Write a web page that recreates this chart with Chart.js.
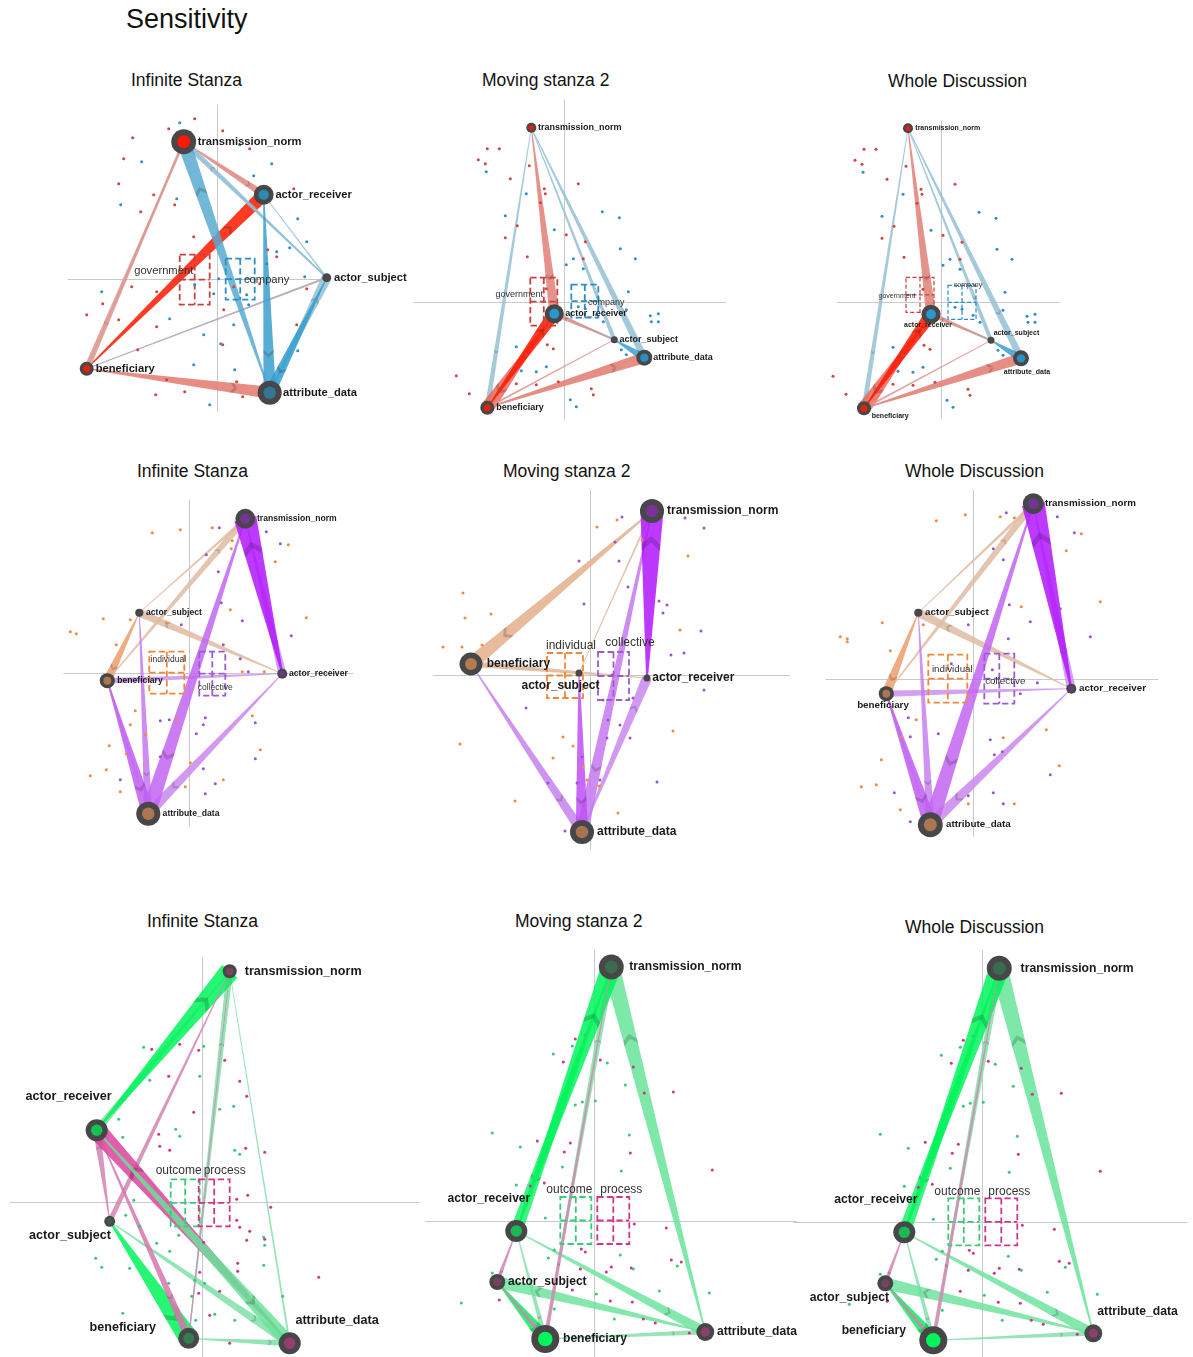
<!DOCTYPE html>
<html lang="en">
<head>
<meta charset="UTF-8">
<title>Sensitivity</title>
<script src="https://cdn.jsdelivr.net/npm/chart.js@4.4.1/dist/chart.umd.min.js"></script>
<style>
  body { margin: 0; background: #fff; width: 1193px; height: 1357px; position: relative; overflow: hidden;
         font-family: "Liberation Sans", Arial, sans-serif; }
  .t { position: absolute; white-space: nowrap; color: #111; line-height: 1; }
  canvas { position: absolute; }
</style>
</head>
<body>
<div class="t" style="left:126px;top:6px;font-size:27px">Sensitivity</div>
<div class="t" style="left:131px;top:72px;font-size:17.5px">Infinite Stanza</div>
<div class="t" style="left:482px;top:72px;font-size:17.5px">Moving stanza 2</div>
<div class="t" style="left:888px;top:73px;font-size:17.5px">Whole Discussion</div>
<div class="t" style="left:137px;top:463px;font-size:17.5px">Infinite Stanza</div>
<div class="t" style="left:503px;top:463px;font-size:17.5px">Moving stanza 2</div>
<div class="t" style="left:905px;top:463px;font-size:17.5px">Whole Discussion</div>
<div class="t" style="left:147px;top:913px;font-size:17.5px">Infinite Stanza</div>
<div class="t" style="left:515px;top:913px;font-size:17.5px">Moving stanza 2</div>
<div class="t" style="left:905px;top:919px;font-size:17.5px">Whole Discussion</div>
<script>
// codes (nodes), same order in every panel
const nodeNames = ['transmission_norm', 'actor_receiver', 'actor_subject', 'beneficiary', 'attribute_data'];
const row1Groups = ['government', 'company'];
const row2Groups = ['individual', 'collective'];
const row3Groups = ['outcome', 'process'];

// ---- row 1 : government / company ----
const p1Nodes = [[-0.33,1.37],[0.47,0.84],[1.10,0.01],[-1.30,-0.90],[0.53,-1.14]];
const p1Sizes = [0.89,0.71,0.32,0.50,0.86];
const p1Tint = [[0,1.0],[1,0.8],[0,0],[0,0.85],[1,0.55]];
// [from, to, group, weight, saturation] - drawn in list order
const p1Edges = [
  [3,1,0,0.52,1.0],[3,4,0,0.48,0.5],[0,1,0,0.28,0.4],[0,3,0,0.24,0.25],[3,0,0,0.12,0.25],[3,2,0,0.08,0.35],
  [4,2,1,0.40,0.35],[2,0,1,0.24,0.35],[0,2,1,0.08,0.4],[1,2,1,0.06,0.4],[3,2,1,0.05,0.3],
  [4,0,1,0.55,0.75],[1,4,1,0.50,0.9],[2,4,1,0.44,0.95]
];
const p1Means = [[-0.37,-0.07,-0.26,0.24],[0.09,0.38,-0.21,0.20]];
const p1Dots0 = [[-0.22,1.60],[-0.48,1.50],[0.06,1.48],[-0.84,1.41],[0.33,1.30],[-0.93,1.20],[-0.98,0.95],[-0.63,0.84],
  [-0.42,0.74],[-0.76,0.67],[0.77,0.90],[-0.23,0.42],[0.51,0.29],[0.60,0.22],[-0.85,-0.08],[-0.60,-0.13],[-1.14,-0.25],
  [-1.30,-0.36],[-0.98,-0.41],[-0.60,-0.48],[-0.79,-0.71],[-0.50,-1.01],[-0.32,-1.13],[-0.61,-1.16],[0.06,-0.66],
  [0.20,-1.03],[0.26,-1.18],[0.07,-0.31],[0.90,-0.10],[0.17,-0.08],[0.80,-0.46],[0.43,-0.05]];
const p1Dots1 = [[-0.37,1.56],[0.23,1.34],[-0.75,1.17],[0.55,1.15],[0.37,1.03],[-0.96,0.74],[-0.40,0.80],[0.81,0.60],
  [0.90,0.37],[0.73,0.31],[0.60,0.27],[0.50,0.15],[0.02,0.00],[-0.22,-0.06],[-0.03,-0.15],[-1.15,-0.13],[-0.47,-0.40],
  [-0.13,-0.56],[0.04,-0.65],[0.17,-0.46],[0.18,-0.91],[-0.23,-0.86],[-0.07,-1.26],[0.81,-0.72],[0.32,-0.26],
  [0.88,0.02],[0.30,-0.16]];

const p2Nodes = [[-0.33,1.74],[-0.10,-0.12],[0.50,-0.38],[-0.77,-1.06],[0.80,-0.56]];
const p2Sizes = [0.36,0.68,0.25,0.50,0.57];
const p2Tint = [[0,0.8],[1,1.0],[0,0],[0,0.8],[1,0.9]];
const p2Edges = [
  [0,4,1,0.28,0.35],[0,2,1,0.16,0.35],[0,3,1,0.20,0.3],[1,2,1,0.10,0.5],
  [0,1,0,0.40,0.45],[1,3,0,0.55,0.6],[3,1,0,0.50,1.0],[3,4,0,0.44,0.5],[2,1,0,0.20,0.3],[2,3,0,0.08,0.3],[4,3,0,0.06,0.3],
  [2,4,1,0.32,0.9]
];
const p2Means = [[-0.34,-0.07,-0.24,0.24],[0.07,0.34,-0.16,0.17]];
const p3Means = [[-0.35,-0.07,-0.10,0.25],[0.07,0.35,-0.17,0.17]];
const p2Dots0 = [[-0.77,1.53],[-0.65,1.53],[-0.86,1.42],[-0.79,1.38],[-0.35,1.36],[-0.54,1.23],[0.14,1.18],[-0.20,1.13],
  [-0.19,1.08],[-0.24,0.99],[-0.47,0.76],[-0.59,0.64],[-0.37,0.45],[0.02,0.67],[0.21,0.60],[0.19,0.43],[-0.18,0.13],
  [-0.17,-0.43],[-0.11,-0.47],[-0.38,-0.53],[-1.08,-0.74],[-0.95,-0.92],[-0.48,-0.82],[-0.28,-0.83],[-0.06,-0.80],
  [0.27,-0.87],[0.29,-0.93]];
const p2Dots1 = [[-0.78,1.30],[-0.38,1.08],[-0.59,0.86],[-0.10,0.72],[0.38,0.90],[0.55,0.84],[0.56,0.53],[0.71,0.43],
  [0.09,0.43],[0.02,0.37],[0.19,0.33],[0.64,0.10],[0.14,-0.05],[0.21,-0.07],[0.32,-0.13],[0.39,-0.20],[0.86,-0.14],
  [0.94,-0.12],[0.87,-0.20],[0.94,-0.20],[0.62,-0.08],[0.57,-0.48],[0.62,-0.53],[-0.48,-0.45],[-0.43,-0.69],
  [-0.28,-0.70],[0.06,-0.98],[0.12,-1.05],[-0.18,-0.65]];

// ---- row 2 : individual / collective ----
const p4Nodes = [[0.56,1.54],[0.93,-0.01],[-0.50,0.60],[-0.82,-0.08],[-0.41,-1.41]];
const p4Sizes = [0.71,0.36,0.29,0.54,0.86];
const p4Tint = [[1,0.4],[1,0.3],[0,0],[0,0.6],[0,0.6]];
const p4Edges = [
  [2,3,0,0.36,0.85],[1,2,0,0.32,0.35],[3,0,0,0.28,0.35],[2,0,0,0.12,0.35],[4,3,0,0.10,0.3],
  [1,3,1,0.22,0.4],[0,1,1,0.32,0.4],[1,4,1,0.40,0.45],[2,4,1,0.32,0.55],[3,4,1,0.52,0.7],[0,4,1,0.60,0.65],[1,0,1,0.90,1.0]
];
const p4Means = [[-0.40,-0.05,-0.21,0.21],[0.10,0.36,-0.23,0.21]];
const p4Dots0 = [[-0.37,1.40],[-0.09,1.43],[0.23,1.45],[0.43,1.32],[0.42,1.24],[0.99,1.28],[0.86,1.11],[1.17,0.55],
  [0.41,0.63],[-0.59,0.53],[-0.86,0.54],[-1.19,0.41],[-1.13,0.39],[-0.73,0.28],[-0.23,0.50],[0.75,0.01],[0.53,0.01],
  [-0.54,-0.38],[-0.59,-0.52],[-0.13,-0.47],[-0.44,-0.62],[-0.80,-0.73],[-0.63,-0.81],[0.71,-0.77],[0.63,-0.43],
  [-0.83,-0.97],[-0.99,-1.03],[-0.69,-1.19],[0.01,-0.90],[-0.04,-1.14],[0.34,-1.07]];
const p4Dots1 = [[0.30,1.45],[0.77,1.41],[0.91,1.29],[0.17,1.18],[0.29,1.01],[0.32,0.70],[0.53,0.52],[1.02,0.37],
  [0.34,0.28],[0.51,0.14],[-0.08,0.48],[0.59,0.01],[-0.29,-0.48],[-0.20,-0.47],[0.07,-0.61],[0.16,-0.45],[0.14,-0.52],
  [0.66,-0.50],[0.66,-0.86],[0.14,-0.96],[0.26,-1.11],[0.16,-1.21],[-0.69,-1.07],[-0.29,-0.84]];

const p5Nodes = [[0.62,1.64],[0.57,-0.03],[-0.11,0.02],[-1.19,0.11],[-0.08,-1.57]];
const p5Sizes = [0.86,0.25,0.25,0.82,0.86];
const p5Tint = [[1,0.45],[0,0],[0,0],[0,0.65],[0,0.55]];
const p5Edges = [
  [0,3,0,0.56,0.6],[1,3,0,0.24,0.35],[2,0,0,0.08,0.35],[2,3,0,0.12,0.35],
  [3,4,1,0.40,0.5],[4,1,1,0.40,0.45],[0,4,1,0.50,0.55],[2,4,1,0.50,0.75],[1,0,1,0.92,1.0]
];
const p5Means = [[-0.43,-0.07,-0.23,0.22],[0.08,0.39,-0.25,0.23]];
const p5Dots0 = [[0.27,1.55],[0.07,1.48],[-1.27,0.82],[-1.25,0.57],[-0.99,0.61],[-1.47,0.28],[-1.28,0.28],[-1.08,0.30],
  [0.90,0.45],[0.98,1.19],[0.52,1.35],[-0.75,-1.26],[-1.30,-0.69],[-0.37,-0.83],[-0.27,-0.62],[-0.17,-0.71],
  [-0.07,-0.92],[-0.03,-1.05],[0.83,-0.56],[0.28,-1.38],[0.09,-1.11]];
const p5Dots1 = [[0.32,1.58],[0.25,1.33],[0.29,1.14],[-0.11,1.14],[0.38,0.88],[-0.06,0.71],[0.69,0.74],[0.77,0.70],
  [0.73,0.62],[1.11,0.44],[0.94,0.22],[0.81,0.20],[1.14,-0.15],[0.95,1.57],[1.14,1.47],[0.22,0.00],[0.13,-0.25],
  [0.43,-0.23],[-0.64,-0.33],[0.18,-0.45],[0.30,-0.50],[0.40,-0.63],[0.17,-0.63],[-0.08,-0.82],[0.10,-1.05],
  [0.67,-1.07],[-0.42,-1.08],[-0.13,-1.08],[-0.25,-1.56]];

const p6Nodes = [[0.60,1.75],[0.98,-0.10],[-0.55,0.66],[-0.87,-0.15],[-0.43,-1.46]];
const p6Sizes = [0.75,0.36,0.29,0.54,0.89];
const p6Tint = [[1,0.4],[1,0.3],[0,0],[0,0.6],[0,0.6]];
const p6Edges = [
  [2,3,0,0.40,0.85],[1,2,0,0.36,0.35],[3,0,0,0.30,0.35],[2,0,0,0.14,0.35],[4,3,0,0.10,0.3],
  [1,3,1,0.26,0.4],[0,1,1,0.36,0.4],[1,4,1,0.45,0.45],[2,4,1,0.34,0.5],[3,4,1,0.55,0.7],[0,4,1,0.62,0.65],[1,0,1,0.92,1.0]
];
const p6Means = [[-0.45,-0.06,-0.24,0.24],[0.11,0.41,-0.25,0.25]];
const p6Dots0 = [[-0.37,1.58],[-0.08,1.64],[0.27,1.62],[0.41,1.61],[0.93,1.28],[1.08,1.45],[1.27,0.77],[0.48,0.72],
  [-0.91,0.56],[-0.50,0.54],[-1.33,0.42],[-1.26,0.40],[-1.26,0.37],[-0.83,0.28],[-0.57,-0.41],[-0.72,-0.58],
  [0.73,-0.51],[0.86,-0.87],[0.30,-0.59],[-0.92,-0.81],[-1.12,-1.08],[-0.97,-1.06],[-0.73,-1.31],[-0.05,-1.25],[0.41,-1.25]];
const p6Dots1 = [[0.33,1.66],[0.84,1.62],[1.01,1.46],[0.20,1.30],[0.30,1.19],[-0.05,0.54],[0.36,0.74],[0.57,0.57],
  [0.87,0.70],[1.17,0.42],[0.35,0.40],[-0.22,0.15],[0.19,0.09],[0.64,-0.04],[0.47,-0.15],[-0.65,-0.39],[-0.35,-0.55],
  [-0.63,-0.58],[0.17,-0.61],[0.29,-0.73],[0.21,-0.76],[0.77,-0.96],[-0.79,-1.14],[0.20,-1.14],[0.30,-1.25],
  [-0.05,-1.17],[-0.63,-1.43]];

// ---- row 3 : outcome / process ----
const p7Nodes = [[0.28,2.31],[-1.05,0.72],[-0.92,-0.19],[-0.13,-1.36],[0.88,-1.41]];
const p7Sizes = [0.50,0.79,0.39,0.75,0.79];
const p7Tint = [[1,0.35],[0,0.7],[0,0.1],[0,0.3],[1,0.5]];
const p7Edges = [
  [0,4,0,0.08,0.35],[3,0,0,0.25,0.4],[3,4,0,0.25,0.4],[0,1,0,0.30,0.45],[2,4,0,0.36,0.4],[1,0,0,0.80,1.0],
  [2,3,0,0.80,1.0],
  [0,3,1,0.06,0.4],[0,2,1,0.20,0.45],[2,1,1,0.30,0.45],[1,3,1,0.30,0.55],[4,1,1,0.75,0.9],
  [1,4,0,0.55,0.55]
];
const p7Means = [[-0.31,-0.02,-0.24,0.23],[-0.03,0.28,-0.24,0.23]];
const p7Dots0 = [[-0.58,1.55],[0.02,1.56],[-0.02,1.26],[-0.52,1.22],[0.32,0.96],[0.18,0.93],[-0.26,0.73],[-0.22,0.66],
  [-0.83,0.83],[-0.79,0.65],[0.33,0.52],[0.38,0.48],[-0.68,0.02],[-0.76,-0.13],[-0.62,-0.24],[-0.23,-0.33],
  [-0.45,-0.41],[-0.32,-0.49],[-1.06,-0.56],[-1.00,-0.65],[-0.72,-0.66],[-0.33,-0.81],[-0.10,-0.94],[-0.07,-0.78],
  [0.03,-0.81],[0.33,-1.18],[0.13,-1.12],[0.62,-0.35],[0.63,-0.43],[0.62,-0.63],[0.81,-0.94],[-0.79,-1.11],[-0.06,-1.18]];
const p7Dots1 = [[-0.50,1.53],[-0.22,1.58],[-0.03,1.52],[0.23,1.42],[0.38,1.21],[0.45,1.06],[-0.33,1.26],[-0.08,0.90],
  [-0.43,0.68],[-0.32,0.52],[-0.42,0.56],[0.44,0.54],[0.63,0.50],[0.35,0.03],[0.46,0.07],[0.69,-0.05],[0.48,-0.29],
  [0.35,-0.18],[0.38,-0.25],[0.45,-0.38],[0.63,-0.37],[0.02,-0.40],[0.36,-0.61],[0.36,-0.69],[-0.02,-0.70],
  [0.18,-0.89],[-0.03,-0.91],[0.08,-1.13],[0.28,-1.41],[1.17,-0.75]];

const p8Nodes = [[0.17,2.54],[-0.78,-0.10],[-0.97,-0.61],[-0.49,-1.18],[1.11,-1.11]];
const p8Sizes = [0.89,0.79,0.57,1.00,0.64];
const p8Tint = [[0,0.2],[0,0.65],[1,0.3],[0,1.0],[1,0.45]];
const p8Edges = [
  [1,3,0,0.20,0.35],[3,4,0,0.20,0.35],[3,0,0,0.28,0.4],[1,4,0,0.40,0.5],[4,2,0,0.48,0.5],[4,0,0,0.68,0.55],
  [0,1,0,0.50,0.9],[1,0,0,0.80,1.0],[2,3,0,0.55,1.0],
  [0,3,1,0.16,0.4],[1,2,1,0.16,0.45],[2,3,1,0.20,0.45]
];
const p8Means = [[-0.34,-0.03,-0.23,0.24],[0.03,0.35,-0.23,0.24]];
const p8Dots0 = [[-0.09,1.86],[-0.22,1.75],[-0.41,1.67],[0.13,1.58],[0.31,1.36],[-0.12,1.19],[-0.19,1.16],[0.01,1.20],
  [-1.02,0.88],[-0.74,0.74],[0.35,0.86],[-0.32,0.54],[0.27,0.50],[-0.78,0.36],[-0.49,0.03],[-0.40,-0.29],
  [-0.46,-0.37],[0.26,-0.34],[0.39,-0.48],[0.83,-0.45],[0.02,-0.73],[-0.40,-0.88],[0.20,-0.98],[-1.02,-0.52],
  [-1.33,-0.82],[1.15,-0.72],[0.65,-0.70]];
const p8Dots1 = [[-0.19,1.82],[-0.31,1.59],[0.06,1.61],[0.39,1.54],[0.50,1.28],[0.79,1.29],[-0.57,0.80],[-0.24,0.78],
  [-0.30,0.69],[0.36,0.68],[1.18,0.51],[-0.50,0.38],[-0.64,0.35],[0.40,-0.03],[0.72,-0.07],[-0.13,-0.28],
  [-0.09,-0.31],[0.17,-0.46],[0.37,-0.47],[0.12,-0.51],[0.77,-0.39],[0.87,-0.41],[-0.14,-0.48],[-0.22,-0.69],
  [0.16,-0.80],[0.38,-0.81],[0.49,-0.98],[0.61,-1.02],[0.95,-1.12],[-0.95,-0.79]];

// colour ramps per row: [pale, vivid] for each group
const palettes = [
  [[[214,168,163],[255,25,0]], [[172,200,214],[38,152,206]]],
  [[[219,196,178],[238,148,86]], [[210,180,230],[178,22,255]]],
  [[[165,218,190],[0,245,90]], [[208,162,188],[222,48,150]]]
];
const dotColors = [['#d0453f','#2e8ec4'], ['#f08a3a','#9a52d2'], ['#3cc47a','#cf338a']];
const boxColors = [['#c8423d','#2e8ec4'], ['#f0883a','#9c5ccc'], ['#3dc97a','#d0348c']];
const groupNames = [row1Groups, row2Groups, row3Groups];
const GRAY = [74,74,74];
const EDGE_MAX = 25, NODE_MAX = 14;

// layout: canvas rect, origin pixel, axis-line extents, label placement
const panels = [
  {row:0, rect:[60,95,360,330], origin:[216.7,278.7], axes:[-1.49,1.12,-1.33,1.74], font:11.2, gfont:11.2,
   nodes:p1Nodes, sizes:p1Sizes, tint:p1Tint, edges:p1Edges, means:p1Means, dots:[p1Dots0,p1Dots1],
   glabels:[[-0.53,0.08],[0.50,-0.01]],
   labels:[[14,0,'left'],[11.7,0,'left'],[7.3,0,'left'],[9,0,'left'],[13.3,0,'left']]},
  {row:0, rect:[410,95,330,330], origin:[564.3,301.7], axes:[-1.51,1.62,-1.18,2.02], font:9, gfont:9,
   nodes:p2Nodes, sizes:p2Sizes, tint:p2Tint, edges:p2Edges, means:p2Means, dots:[p2Dots0,p2Dots1],
   glabels:[[-0.45,0.07],[0.42,-0.01]],
   labels:[[6.7,0,'left'],[11,0,'left'],[5.3,0,'left'],[9,0,'left'],[9,0,'left']]},
  {row:0, rect:[820,95,260,330], origin:[941,302.3], axes:[-1.04,1.19,-1.16,1.82], font:7, gfont:7,
   nodes:p2Nodes, sizes:p2Sizes, tint:p2Tint, edges:p2Edges, means:p3Means, dots:[p2Dots0,p2Dots1],
   glabels:[[-0.44,0.06],[0.27,0.17]],
   labels:[[7.3,0,'left'],[-3,10.7,'center'],[2.7,-7,'left'],[7.7,8,'left'],[6,14,'center']]},
  {row:1, rect:[55,490,320,345], origin:[189.3,672.7], axes:[-1.26,1.64,-1.54,1.73], font:8.6, gfont:8.5,
   nodes:p4Nodes, sizes:p4Sizes, tint:p4Tint, edges:p4Edges, means:p4Means, dots:[p4Dots0,p4Dots1],
   glabels:[[-0.21,0.13],[0.26,-0.15]],
   labels:[[11.7,0,'left'],[6.7,0,'left'],[6.7,0,'left'],[10,0,'left'],[14.3,0,'left']]},
  {row:1, rect:[430,488,370,365], origin:[590,675], axes:[-1.57,2.0,-1.75,1.85], font:12, gfont:12,
   nodes:p5Nodes, sizes:p5Sizes, tint:p5Tint, edges:p5Edges, means:p5Means, dots:[p5Dots0,p5Dots1],
   glabels:[[-0.19,0.29],[0.40,0.32]],
   labels:[[15,0,'left'],[5.3,0,'left'],[-18.5,12.3,'center'],[15.7,0,'left'],[15,0,'left']]},
  {row:1, rect:[820,488,350,355], origin:[973.3,678.7], axes:[-1.48,1.85,-1.58,1.89], font:9.8, gfont:9.8,
   nodes:p6Nodes, sizes:p6Sizes, tint:p6Tint, edges:p6Edges, means:p6Means, dots:[p6Dots0,p6Dots1],
   glabels:[[-0.21,0.09],[0.32,-0.03]],
   labels:[[11.7,0,'left'],[7.7,0,'left'],[6.7,0,'left'],[-3.3,12,'center'],[15.7,0,'left']]},
  {row:2, rect:[0,950,425,407], origin:[201.7,1202.3], axes:[-1.92,2.18,-1.55,2.45], font:12.6, gfont:12,
   nodes:p7Nodes, sizes:p7Sizes, tint:p7Tint, edges:p7Edges, means:p7Means, dots:[p7Dots0,p7Dots1],
   glabels:[[-0.23,0.32],[0.23,0.32]],
   labels:[[15,0,'left'],[15,-34,'right'],[1.3,14.3,'right'],[-32.7,-10.7,'right'],[5.7,-22.7,'left']]},
  {row:2, rect:[420,950,377,407], origin:[594.3,1221], axes:[-1.69,2.03,-1.36,2.71], font:12.1, gfont:12,
   nodes:p8Nodes, sizes:p8Sizes, tint:p8Tint, edges:p8Edges, means:p8Means, dots:[p8Dots0,p8Dots1],
   glabels:[[-0.25,0.31],[0.27,0.31]],
   labels:[[18,0,'left'],[14,-32.7,'right'],[10.7,0,'left'],[17.7,0,'left'],[11.7,0,'left']]},
  {row:2, rect:[790,950,400,407], origin:[982.3,1222.3], axes:[-1.89,2.05,-1.35,2.72], font:12.2, gfont:12,
   nodes:p8Nodes, sizes:p8Sizes, tint:p8Tint, edges:p8Edges, means:p8Means, dots:[p8Dots0,p8Dots1],
   glabels:[[-0.25,0.31],[0.27,0.31]],
   labels:[[21.3,0,'left'],[13.3,-32.3,'right'],[3.7,14,'right'],[-27.3,-10,'right'],[4,-21.7,'left']]}
];

const mix = (a, b, t) => a.map((v, i) => Math.round(v + (b[i] - v) * t));
const rgba = (c, a) => `rgba(${c[0]},${c[1]},${c[2]},${a})`;
const pts = arr => arr.map(p => ({x: p[0], y: p[1]}));

function wedge(ctx, ax, ay, bx, by, w, col) {
  const dx = bx - ax, dy = by - ay, L = Math.hypot(dx, dy);
  const ux = dx / L, uy = dy / L, px = -uy, py = ux;
  const n = Math.max(0.4, w * 0.04), h = w / 2;
  ctx.fillStyle = rgba(col, 0.85);
  ctx.beginPath();
  ctx.moveTo(ax + px * n, ay + py * n);
  ctx.lineTo(bx + px * h, by + py * h);
  ctx.lineTo(bx - px * h, by - py * h);
  ctx.lineTo(ax - px * n, ay - py * n);
  ctx.closePath();
  ctx.fill();
  if (w < 4) return;
  // chevron pointing to the wide end
  const t = 0.8, cx = ax + dx * t, cy = ay + dy * t;
  const hw = n + (h - n) * t, tip = hw * 0.9, th = Math.max(2, hw * 0.7);
  ctx.fillStyle = 'rgba(0,0,0,0.17)';
  ctx.beginPath();
  ctx.moveTo(cx + px * hw, cy + py * hw);
  ctx.lineTo(cx + ux * tip, cy + uy * tip);
  ctx.lineTo(cx - px * hw, cy - py * hw);
  ctx.lineTo(cx - px * hw - ux * th, cy - py * hw - uy * th);
  ctx.lineTo(cx + ux * (tip - th), cy + uy * (tip - th));
  ctx.lineTo(cx + px * hw - ux * th, cy + py * hw - uy * th);
  ctx.closePath();
  ctx.fill();
}

function panelPlugin(p, idx) {
  return {
    id: 'ena' + idx,
    beforeDatasetsDraw(chart) {
      const ctx = chart.ctx, sx = chart.scales.x, sy = chart.scales.y;
      const X = v => sx.getPixelForValue(v), Y = v => sy.getPixelForValue(v);
      ctx.save();
      ctx.strokeStyle = '#c9c9c9';
      ctx.lineWidth = 1;
      ctx.beginPath();
      const y0 = Math.round(Y(0)) + 0.5, x0 = Math.round(X(0)) + 0.5;
      ctx.moveTo(X(p.axes[0]), y0); ctx.lineTo(X(p.axes[1]), y0);
      ctx.moveTo(x0, Y(p.axes[2])); ctx.lineTo(x0, Y(p.axes[3]));
      ctx.stroke();

      const pal = palettes[p.row];
      p.edges.forEach(e => {
        const a = p.nodes[e[0]], b = p.nodes[e[1]];
        const col = mix(pal[e[2]][0], pal[e[2]][1], Math.pow(e[4], 1.6));
        wedge(ctx, X(a[0]), Y(a[1]), X(b[0]), Y(b[1]), e[3] * EDGE_MAX, col);
      });

      // confidence boxes around group means
      const lw = p.font < 8 ? 1.2 : 1.8;
      ctx.lineWidth = lw;
      ctx.setLineDash([lw * 3.5, lw * 1.8]);
      p.means.forEach((m, g) => {
        const l = X(m[0]), r = X(m[1]), tp = Y(m[3]), bt = Y(m[2]);
        const cx = X((m[0] + m[1]) / 2), cy = Y((m[2] + m[3]) / 2);
        ctx.strokeStyle = boxColors[p.row][g];
        ctx.strokeRect(l, tp, r - l, bt - tp);
        ctx.beginPath();
        ctx.moveTo(cx, tp); ctx.lineTo(cx, bt);
        ctx.moveTo(l, cy); ctx.lineTo(r, cy);
        ctx.stroke();
      });
      ctx.restore();
    },
    afterDatasetsDraw(chart) {
      const ctx = chart.ctx, sx = chart.scales.x, sy = chart.scales.y;
      const X = v => sx.getPixelForValue(v), Y = v => sy.getPixelForValue(v);
      ctx.save();
      ctx.textBaseline = 'middle';
      ctx.fillStyle = '#333';
      ctx.font = `${p.gfont}px "Liberation Sans", Arial, sans-serif`;
      ctx.textAlign = 'center';
      p.glabels.forEach((g, i) => ctx.fillText(groupNames[p.row][i], X(g[0]), Y(g[1])));
      ctx.fillStyle = '#1a1a1a';
      ctx.font = `bold ${p.font}px "Liberation Sans", Arial, sans-serif`;
      p.nodes.forEach((n, i) => {
        const lp = p.labels[i];
        ctx.textAlign = lp[2];
        ctx.fillText(nodeNames[i], X(n[0]) + lp[0], Y(n[1]) + lp[1]);
      });
      ctx.restore();
    }
  };
}

panels.forEach((p, idx) => {
  const [left, top, w, h] = p.rect;
  const cv = document.createElement('canvas');
  cv.width = w; cv.height = h;
  cv.style.left = left + 'px'; cv.style.top = top + 'px';
  cv.style.width = w + 'px'; cv.style.height = h + 'px';
  document.body.appendChild(cv);
  const k = 100;
  const pal = palettes[p.row];
  const inner = p.tint.map(t => rgba(mix(GRAY, pal[t[0]][1], t[1]), 1));

  new Chart(cv, {
    type: 'scatter',
    data: {
      datasets: [
        {label: 'node centre', data: pts(p.nodes), pointRadius: p.sizes.map(s => s * NODE_MAX * 0.52),
         backgroundColor: inner, pointBorderWidth: 0, order: 0},
        {label: 'node', data: pts(p.nodes), pointRadius: p.sizes.map(s => s * NODE_MAX),
         backgroundColor: '#474747', pointBorderWidth: 0, order: 1},
        {label: groupNames[p.row][0], data: pts(p.dots[0]), pointRadius: 1.5,
         backgroundColor: dotColors[p.row][0], pointBorderWidth: 0, order: 2},
        {label: groupNames[p.row][1], data: pts(p.dots[1]), pointRadius: 1.5,
         backgroundColor: dotColors[p.row][1], pointBorderWidth: 0, order: 2}
      ]
    },
    options: {
      responsive: false,
      animation: false,
      devicePixelRatio: 1,
      events: [],
      layout: {padding: 0, autoPadding: false},
      scales: {
        x: {type: 'linear', display: false, min: (left - p.origin[0]) / k, max: (left + w - p.origin[0]) / k},
        y: {type: 'linear', display: false, min: (p.origin[1] - top - h) / k, max: (p.origin[1] - top) / k}
      },
      plugins: {legend: {display: false}, tooltip: {enabled: false}}
    },
    plugins: [panelPlugin(p, idx)]
  });
});
</script>
</body>
</html>
